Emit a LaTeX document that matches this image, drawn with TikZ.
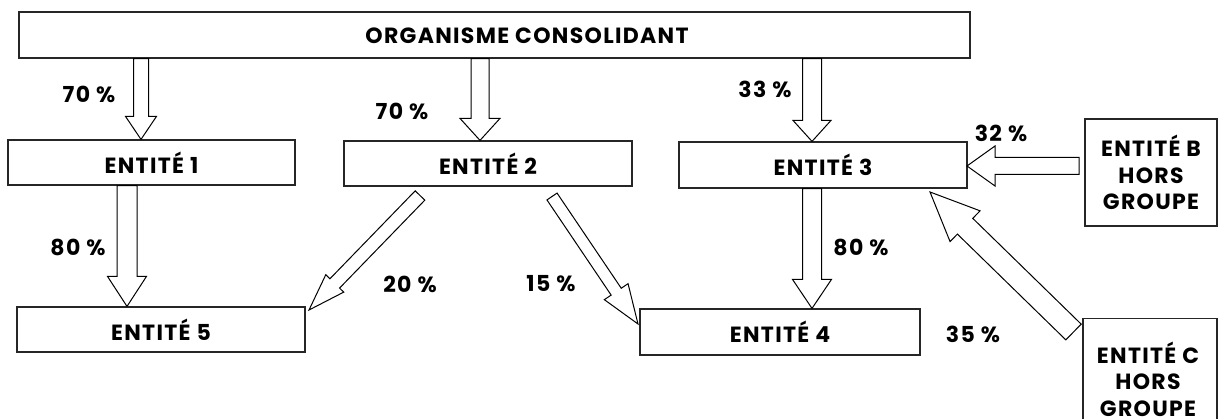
\documentclass[tikz,border=0pt]{standalone}
\usepackage{fontspec}
\setmainfont{Poppins}[LetterSpace=6]
\usetikzlibrary{calc}
\tikzset{
  box/.style={draw=black!85, line width=1.2pt, rectangle, inner sep=0pt, font=\fontsize{22}{26.5}\selectfont\bfseries, align=center},
  pct/.style={font=\fontsize{22}{26.5}\selectfont\bfseries, inner sep=0pt},
  blk/.style={draw=black, line width=1pt, fill=white, line join=miter},
}
\newcommand\barrow[5]{%
  \path ($(#2)!#5!(#1)$) coordinate (hb);
  \draw[blk] ($(#1)!#3!90:(#2)$) -- ($(hb)!#3!90:(#2)$) -- ($(hb)!#4!90:(#2)$) -- (#2)
    -- ($(hb)!#4!-90:(#2)$) -- ($(hb)!#3!-90:(#2)$) -- ($(#1)!#3!-90:(#2)$) -- cycle;
}
\begin{document}
\begin{tikzpicture}[x=1pt,y=-1pt]
\useasboundingbox[fill=white] (0,0) rectangle (1218,419);
% boxes
\node[box, minimum width=951pt, minimum height=46pt] (top) at (494.5,35) {};
\node[pct] (toptxt) at (527,36) {ORGANISME CONSOLIDANT};
\node[box, minimum width=287pt, minimum height=45pt] (e1) at (151.5,162.5) {ENTITÉ 1};
\node[box, minimum width=288pt, minimum height=45pt] (e2) at (488,163.5) {ENTITÉ 2};
\node[box, minimum width=288pt, minimum height=46pt] (e3) at (823,165) {ENTITÉ 3};
\node[box, minimum width=288pt, minimum height=45pt] (e5) at (161,329.5) {ENTITÉ 5};
\node[box, minimum width=280pt, minimum height=46pt] (e4) at (780,332) {ENTITÉ 4};
\node[box, minimum width=132pt, minimum height=107pt] (eb) at (1151,172.5) {ENTITÉ B\\HORS\\GROUPE};
\node[box, minimum width=134pt, minimum height=130pt, anchor=north] (ec) at (1150,318) {};
\node[pct, align=center] (ectxt) at (1148,379) {ENTITÉ C\\HORS\\GROUPE};
% arrow anchors
\coordinate (x1) at (141,0);
\coordinate (x2) at (480,0);
\coordinate (x3) at (812,0);
\coordinate (x5) at (127,0);
\barrow{top.south -| x1}{e1.north -| x1}{7.5pt}{15.5pt}{23pt}
\barrow{top.south -| x2}{e2.north -| x2}{9pt}{20pt}{22pt}
\barrow{top.south -| x3}{e3.north -| x3}{9.5pt}{19pt}{21pt}
\barrow{e1.south -| x5}{e5.north -| x5}{10pt}{19.5pt}{30pt}
\barrow{e3.south -| x3}{e4.north -| x3}{9.5pt}{19.5pt}{29pt}
\coordinate (b0) at (1079,166);
\coordinate (b1) at (967,166);
\barrow{b0}{b1}{8.5pt}{20pt}{28pt}
\coordinate (c0) at (1073.5,332);
\coordinate (c1) at (930,192);
\barrow{c0}{c1}{11pt}{21.5pt}{49pt}
\coordinate (d0) at (420,195.5);
\coordinate (d1) at (309,310);
\barrow{d0}{d1}{6.7pt}{12.5pt}{37pt}
\coordinate (f0) at (552,196.5);
\coordinate (f1) at (638,324);
\barrow{f0}{f1}{6.1pt}{14.3pt}{39pt}
% labels
\node[pct] (l1) at (89,94) {70 \%};
\node[pct] (l2) at (402,111) {70 \%};
\node[pct] (l3) at (765,89) {33 \%};
\node[pct] (l4) at (1001,133) {32 \%};
\node[pct] (l5) at (78,247) {80 \%};
\node[pct] (l6) at (861,247) {80 \%};
\node[pct] (l7) at (410,284) {20 \%};
\node[pct] (l8) at (551,284) {15 \%};
\node[pct] (l9) at (973,334) {35 \%};
\end{tikzpicture}
\end{document}
